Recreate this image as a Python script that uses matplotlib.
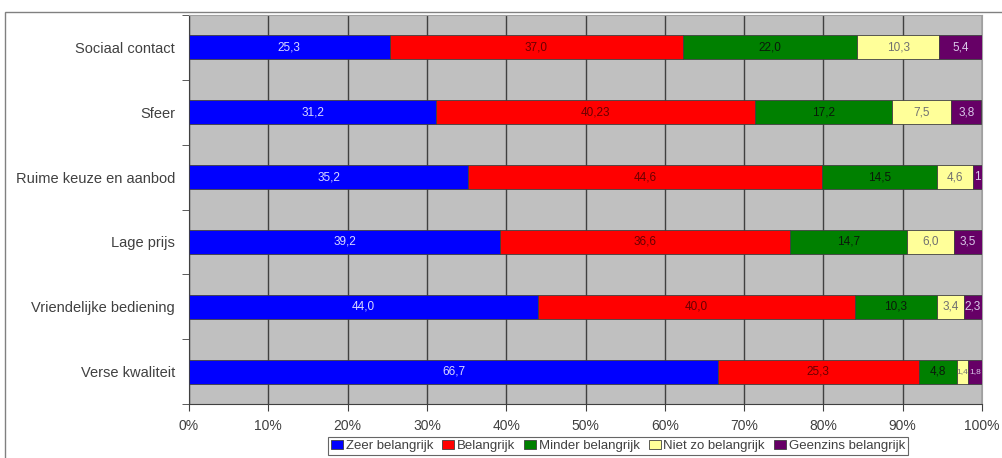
import matplotlib.pyplot as plt
from matplotlib.patches import Rectangle

plt.rcParams['font.family'] = ['Liberation Sans', 'DejaVu Sans']

# redenen, van boven naar beneden
redenen = ['Sociaal contact', 'Sfeer', 'Ruime keuze en aanbod', 'Lage prijs',
           'Vriendelijke bediening', 'Verse kwaliteit']

zeer_belangrijk = [25.3, 31.2, 35.2, 39.2, 44.0, 66.7]
belangrijk = [37.0, 40.23, 44.6, 36.6, 40.0, 25.3]
minder_belangrijk = [22.0, 17.2, 14.5, 14.7, 10.3, 4.8]
niet_zo_belangrijk = [10.3, 7.5, 4.6, 6.0, 3.4, 1.4]
geenzins_belangrijk = [5.4, 3.8, 1.1, 3.5, 2.3, 1.8]

reeksen = [
    ('Zeer belangrijk', zeer_belangrijk, '#0000FF', '#D8D8FF'),
    ('Belangrijk', belangrijk, '#FF0000', '#6A0000'),
    ('Minder belangrijk', minder_belangrijk, '#008000', '#0A1A0A'),
    ('Niet zo belangrijk', niet_zo_belangrijk, '#FFFF99', '#707070'),
    ('Geenzins belangrijk', geenzins_belangrijk, '#660066', '#D8C8E8'),
]

fig = plt.figure(figsize=(10.03, 4.58), dpi=100)
ax = fig.add_axes([189 / 1003, 1 - 404 / 458, 793 / 1003, 389 / 458])
ax.set_facecolor('#C0C0C0')

# kader rond de grafiek
fig.patches.append(Rectangle((5 / 1003, -0.01), 1.1, 1 - 12 / 458 + 0.01,
                             transform=fig.transFigure, fill=False,
                             edgecolor='#808080', linewidth=1.0))

y = list(range(len(redenen)))
links = [0.0] * len(redenen)
for naam, waarden, kleur, tekstkleur in reeksen:
    bars = ax.barh(y, waarden, left=links, height=0.37, color=kleur,
                   edgecolor='#404040', linewidth=0.6, label=naam, zorder=3)
    for bar, w in zip(bars, waarden):
        tekst = f'{w:.2f}' if naam == 'Belangrijk' and w == 40.23 else f'{w:.1f}'
        if w == 1.1:
            tekst = '1'
        # smalle stukjes krijgen een kleiner getal
        grootte = 6 if w < 2 and len(tekst) > 1 else 8.5
        t = ax.text(bar.get_x() + w / 2, bar.get_y() + bar.get_height() / 2,
                    tekst.replace('.', ','), ha='center', va='center',
                    fontsize=grootte, color=tekstkleur, zorder=4)
        t.set_clip_path(bar)
    links = [l + w for l, w in zip(links, waarden)]

ax.set_xlim(0, 100)
ax.set_ylim(len(redenen) - 0.5, -0.5)
ax.set_xticks(range(0, 101, 10))
ax.set_xticklabels([f'{v}%' for v in range(0, 101, 10)], fontsize=10,
                   color='#404040')
ax.set_yticks(y)
ax.set_yticklabels(redenen, fontsize=10.5, color='#404040')
ax.set_yticks([v - 0.5 for v in range(len(redenen) + 1)], minor=True)
ax.tick_params(axis='y', which='major', length=0, pad=10)
ax.tick_params(axis='y', which='minor', length=5, color='#404040')
ax.tick_params(axis='x', length=5, color='#404040', pad=6)
ax.grid(axis='x', color='#404040', linewidth=1.0, zorder=1)
ax.set_axisbelow(True)
for kant in ['top', 'right']:
    ax.spines[kant].set_color('#A0A0A0')
for kant in ['left', 'bottom']:
    ax.spines[kant].set_color('#404040')

leg = fig.legend(loc='center', bbox_to_anchor=(618 / 1003, 1 - 446 / 458),
                 ncol=5, fontsize=9.5, frameon=True, fancybox=False,
                 handlelength=0.9, handleheight=0.7, handletextpad=0.2,
                 columnspacing=0.7, borderpad=0.25, borderaxespad=0)
leg.get_frame().set_edgecolor('#404040')
leg.get_frame().set_linewidth(0.8)
for txt in leg.get_texts():
    txt.set_color('#404040')

plt.savefig('out.png', dpi=100)
